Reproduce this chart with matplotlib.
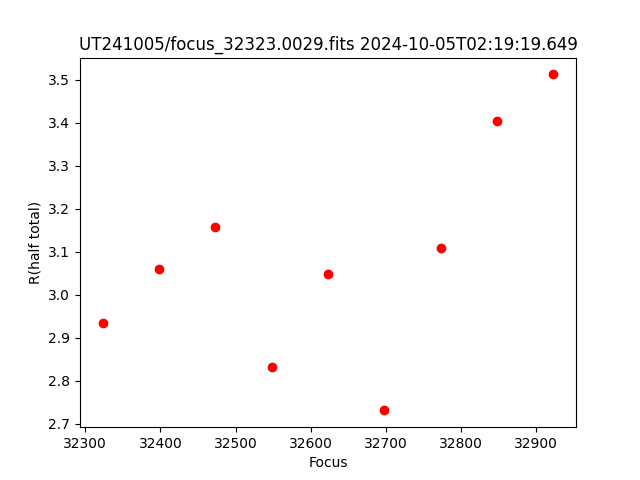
import matplotlib
matplotlib.use('Agg')
import matplotlib.pyplot as plt

focus = [32323, 32398, 32473, 32548, 32623, 32698, 32773, 32848, 32923]
r_half = [2.934, 3.059, 3.157, 2.833, 3.048, 2.731, 3.108, 3.404, 3.513]

plt.figure(figsize=(6.4, 4.8), dpi=100)
plt.plot(focus, r_half, 'ro')
plt.xlabel('Focus')
plt.ylabel('R(half total)')
plt.title('UT241005/focus_32323.0029.fits 2024-10-05T02:19:19.649')
plt.savefig('out.png')
